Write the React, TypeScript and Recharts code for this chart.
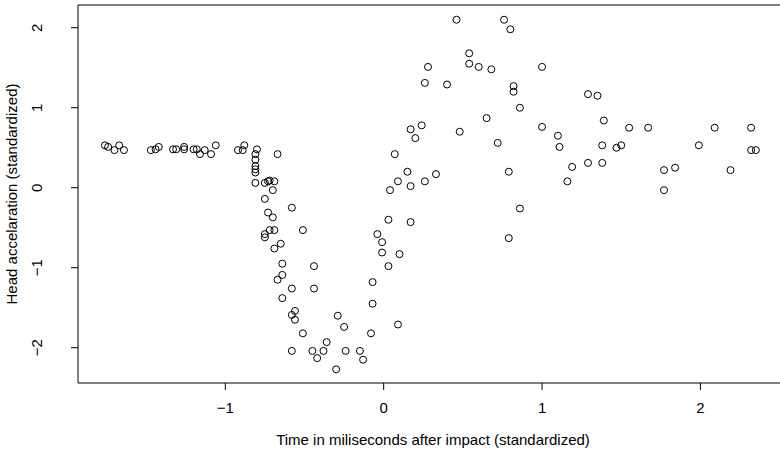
import React from 'react';
import { ScatterChart, Scatter, XAxis, YAxis, ReferenceArea } from 'recharts';

// standardized time (x) and head acceleration (y)
const timeStd = [
  -1.76, -1.74, -1.70, -1.67, -1.64, -1.47, -1.44, -1.42, -1.33, -1.31,
  -1.26, -1.26, -1.20, -1.18, -1.16, -1.13, -1.09, -1.06, -0.92, -0.89,
  -0.88, -0.81, -0.80, -0.81, -0.81, -0.81, -0.81, -0.67, -0.81, -0.75,
  -0.73, -0.72, -0.69, -0.70, -0.75, -0.58, -0.73, -0.70, -0.51, -0.72,
  -0.69, -0.75, -0.75, -0.65, -0.69, -0.64, -0.64, -0.67, -0.58, -0.64,
  -0.56, -0.58, -0.56, -0.51, -0.58, -0.04, -0.01, -0.01, 0.03, -0.44,
  -0.07, -0.44, -0.07, -0.29, -0.25, -0.08, -0.36, -0.45, -0.42, -0.38,
  -0.24, -0.15, -0.13, -0.30, 0.03, 0.17, 0.10, 0.09, 0.28, 0.26,
  0.40, 0.24, 0.17, 0.20, 0.07, 0.15, 0.09, 0.33, 0.17, 0.26,
  0.04, 0.46, 0.76, 0.80, 0.54, 0.54, 0.60, 0.68, 0.82, 0.82,
  0.86, 0.65, 0.48, 0.72, 0.79, 1.00, 1.00, 1.10, 1.11, 1.19,
  1.16, 0.86, 0.79, 1.29, 1.35, 1.39, 1.55, 1.67, 1.38, 1.47,
  1.50, 1.29, 1.38, 1.77, 1.77, 2.09, 2.32, 1.99, 2.32, 2.35,
  1.84, 2.19,
];
const accelStd = [
  0.53, 0.51, 0.47, 0.53, 0.47, 0.47, 0.48, 0.51, 0.48, 0.48,
  0.51, 0.48, 0.48, 0.48, 0.42, 0.47, 0.42, 0.53, 0.47, 0.47,
  0.53, 0.42, 0.48, 0.35, 0.27, 0.23, 0.19, 0.42, 0.06, 0.06,
  0.08, 0.09, 0.08, -0.03, -0.14, -0.25, -0.31, -0.37, -0.53, -0.53,
  -0.53, -0.58, -0.62, -0.70, -0.76, -0.95, -1.09, -1.15, -1.26, -1.38,
  -1.54, -1.59, -1.65, -1.82, -2.04, -0.58, -0.68, -0.81, -0.98, -0.98,
  -1.18, -1.26, -1.45, -1.60, -1.74, -1.82, -1.93, -2.04, -2.13, -2.04,
  -2.04, -2.04, -2.15, -2.27, -0.40, -0.43, -0.83, -1.71, 1.51, 1.31,
  1.29, 0.78, 0.73, 0.62, 0.42, 0.20, 0.08, 0.17, 0.02, 0.08,
  -0.03, 2.10, 2.10, 1.98, 1.68, 1.55, 1.51, 1.48, 1.27, 1.20,
  1.00, 0.87, 0.70, 0.56, 0.20, 1.51, 0.76, 0.65, 0.51, 0.26,
  0.08, -0.26, -0.63, 1.17, 1.15, 0.84, 0.75, 0.75, 0.53, 0.50,
  0.53, 0.31, 0.31, 0.22, -0.03, 0.75, 0.75, 0.53, 0.47, 0.47,
  0.25, 0.22,
];

const xTicks = [-1, 0, 1, 2];
const yTicks = [-2, -1, 0, 1, 2];
const xDomain: [number, number] = [-1.93, 2.616];
const yDomain: [number, number] = [-2.441, 2.284];
const xTitle = 'Time in miliseconds after impact (standardized)';
const yTitle = 'Head accelaration (standardized)';

const data = timeStd.map((x, i) => ({ x, y: accelStd[i] }));

const FONT = '"Liberation Sans", Arial, Helvetica, sans-serif';
const FS = 15;

const fmt = (v: number) => (v < 0 ? '\u2212' + Math.abs(v) : String(v));

const XTick = (props: any) => {
  const { x, y, payload } = props;
  return (
    <text x={x} y={y + 21} textAnchor="middle" fontFamily={FONT} fontSize={FS} fill="#000">
      {fmt(payload.value)}
    </text>
  );
};

const YTick = (props: any) => {
  const { x, y, payload } = props;
  const bx = x - 27;
  return (
    <text
      x={bx}
      y={y}
      textAnchor="middle"
      transform={`rotate(-90, ${bx}, ${y})`}
      fontFamily={FONT}
      fontSize={FS}
      fill="#000"
    >
      {fmt(payload.value)}
    </text>
  );
};

const Dot = (props: any) => {
  const { cx, cy } = props;
  return <circle cx={cx} cy={cy} r={3.5} fill="none" stroke="#000" strokeWidth={1} />;
};

const XTitle = (props: any) => {
  const vb = props.viewBox || {};
  const cx = vb.x + vb.width / 2 - 5;
  return (
    <text x={cx} y={vb.y + 62} textAnchor="middle" fontFamily={FONT} fontSize={FS} fill="#000">
      {xTitle}
    </text>
  );
};

const YTitle = (props: any) => {
  const vb = props.viewBox || {};
  const cy = vb.y + vb.height / 2;
  const bx = 17;
  return (
    <text
      x={bx}
      y={cy}
      textAnchor="middle"
      transform={`rotate(-90, ${bx}, ${cy})`}
      fontFamily={FONT}
      fontSize={FS}
      fill="#000"
    >
      {yTitle}
    </text>
  );
};

export default function App() {
  return (
    <div
      style={{
        position: 'absolute',
        left: 0,
        top: 0,
        width: 780,
        height: 457,
        overflow: 'hidden',
        background: '#fff',
      }}
    >
      <ScatterChart width={830} height={457} margin={{ top: 5, right: 32, bottom: 0, left: 0 }}>
        <XAxis
          type="number"
          dataKey="x"
          domain={xDomain}
          allowDataOverflow
          ticks={xTicks}
          interval={0}
          tickSize={7}
          axisLine={false}
          tickLine={{ stroke: '#000' }}
          stroke="#000"
          height={74}
          tick={<XTick />}
          label={<XTitle />}
        />
        <YAxis
          type="number"
          dataKey="y"
          domain={yDomain}
          allowDataOverflow
          ticks={yTicks}
          interval={0}
          tickSize={7}
          axisLine={false}
          tickLine={{ stroke: '#000' }}
          stroke="#000"
          width={78}
          tick={<YTick />}
          label={<YTitle />}
        />
        <ReferenceArea
          x1={xDomain[0]}
          x2={xDomain[1]}
          y1={yDomain[0]}
          y2={yDomain[1]}
          fill="none"
          fillOpacity={0}
          stroke="#000"
          strokeWidth={1}
          ifOverflow="visible"
        />
        <Scatter data={data} dataKey="y" isAnimationActive={false} shape={<Dot />} />
      </ScatterChart>
    </div>
  );
}
